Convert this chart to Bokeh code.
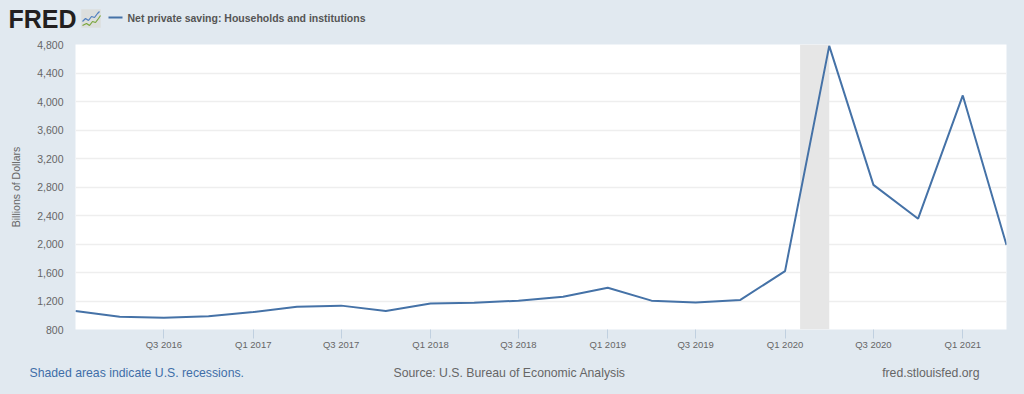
from datetime import datetime, timezone
from bokeh.plotting import figure
from bokeh.layouts import column, row
from bokeh.embed import file_html
from bokeh.resources import INLINE
from bokeh.core.properties import value
from bokeh.models import FixedTicker, NumeralTickFormatter, BoxAnnotation, Range1d, GlobalInlineStyleSheet

quarters = ["2016-01-01","2016-04-01","2016-07-01","2016-10-01","2017-01-01","2017-04-01","2017-07-01","2017-10-01",
            "2018-01-01","2018-04-01","2018-07-01","2018-10-01","2019-01-01","2019-04-01","2019-07-01","2019-10-01",
            "2020-01-01","2020-04-01","2020-07-01","2020-10-01","2021-01-01","2021-04-01"]
saving = [1060,980,965,985,1045,1120,1135,1060,1165,1175,1205,1260,1385,1205,1180,1215,1620,4780,2830,2355,4085,1985]
x_tick_dates = ["2016-07-01","2017-01-01","2017-07-01","2018-01-01","2018-07-01","2019-01-01","2019-07-01","2020-01-01","2020-07-01","2021-01-01"]
x_tick_labels = ["Q3 2016","Q1 2017","Q3 2017","Q1 2018","Q3 2018","Q1 2019","Q3 2019","Q1 2020","Q3 2020","Q1 2021"]
y_ticks = [800,1200,1600,2000,2400,2800,3200,3600,4000,4400,4800]
recession = ["2020-02-01","2020-04-01"]
series_name = "Net private saving: Households and institutions"

BG = "#e1e9f0"
LINE = "#4572a7"
FONT = "Liberation Sans"

def ms(s):
    return datetime.strptime(s, "%Y-%m-%d").replace(tzinfo=timezone.utc).timestamp()*1000

W, H = 1024, 394
HEAD, FOOT = 34, 36          # strips above and below the chart figure
L, R, T, B = 75, 1006, 44, 329

def strip(height, top):
    """Text strip whose data coordinates are page pixels."""
    f = figure(width=W, height=height, output_backend="svg", toolbar_location=None,
               x_range=Range1d(0, W), y_range=Range1d(top + height, top),
               x_axis_location=None, y_axis_location=None,
               min_border=0, min_border_left=0, min_border_right=0, min_border_top=0, min_border_bottom=0,
               background_fill_color=BG, border_fill_color=BG, outline_line_color=None)
    f.grid.visible = False
    return f

def put(f, text, x, y, size, color, style="normal", align="left"):
    f.text([x], [y], text=[text], text_font=value(FONT), text_font_size=value(size),
           text_font_style=style, text_color=color, text_align=align, text_baseline="middle")

# header
head = strip(HEAD, 0)
put(head, "FRED", 8, 18, "25px", "#231f20", "bold")
icon_box = ([81, 100, 100, 81], [9, 9, 27, 27])
icon_blue = ([82, 85, 88, 91, 94, 97, 99], [21, 18, 20, 16, 17, 13, 11])
icon_green = ([82, 86, 89, 92, 95, 98, 100], [25, 23, 25, 21, 22, 18, 15])
head.patch(icon_box[0], icon_box[1], fill_color="#dcdedd", line_color="#dcdedd", line_width=0.5)
head.line(icon_blue[0], icon_blue[1], line_color="#4f7fc0", line_width=1.2)
head.line(icon_green[0], icon_green[1], line_color="#7aa63c", line_width=1.2)
head.line([108, 122], [17, 17], line_color=LINE, line_width=2)
put(head, series_name, 127, 17, "10.5px", "#555555", "bold")

# chart
p = figure(width=W, height=H-HEAD-FOOT, output_backend="svg", toolbar_location=None, x_axis_type="datetime",
           x_range=Range1d(ms(quarters[0]), ms(quarters[-1])), y_range=Range1d(800, 4800),
           min_border_left=L, min_border_right=W-R, min_border_top=T-HEAD, min_border_bottom=H-FOOT-B,
           background_fill_color="white", border_fill_color=BG, outline_line_color=None)

p.add_layout(BoxAnnotation(left=ms(recession[0]), right=ms(recession[1]), fill_color="#e6e6e6", fill_alpha=1,
                           line_color=None, level="underlay"))
p.line([ms(q) for q in quarters], saving, line_color=LINE, line_width=2)

xa = p.xaxis[0]
xa.ticker = FixedTicker(ticks=[ms(d) for d in x_tick_dates])
xa.major_label_overrides = {ms(d): l for d, l in zip(x_tick_dates, x_tick_labels)}
xa.axis_line_color = None
xa.major_tick_line_color = "#c0d0e0"
xa.major_tick_out = 9
xa.major_tick_in = 0
xa.minor_tick_line_color = None
xa.major_label_text_font = FONT
xa.major_label_text_font_size = "9.5px"
xa.major_label_text_color = "#666666"
xa.major_label_standoff = 0

ya = p.yaxis[0]
ya.ticker = FixedTicker(ticks=y_ticks)
ya.formatter = NumeralTickFormatter(format="0,0")
ya.axis_line_color = None
ya.major_tick_line_color = None
ya.minor_tick_line_color = None
ya.major_label_text_font = FONT
ya.major_label_text_font_size = "10.5px"
ya.major_label_text_color = "#666666"
ya.major_label_standoff = 6
ya.axis_label = "Billions of Dollars"
ya.axis_label_text_font = FONT
ya.axis_label_text_font_size = "10.5px"
ya.axis_label_text_font_style = "normal"
ya.axis_label_text_color = "#666666"
ya.axis_label_standoff = 12

p.xgrid.visible = False
p.ygrid.grid_line_color = "#eeeeee"
p.ygrid.grid_line_width = 1.5

# footer
foot = strip(FOOT, H - FOOT)
put(foot, "Shaded areas indicate U.S. recessions.", 29, 372, "12.25px", "#3f6ea8")
put(foot, "Source: U.S. Bureau of Economic Analysis", 393, 372, "12.25px", "#666666")
put(foot, "fred.stlouisfed.org", 979, 372, "12.25px", "#666666", align="right")

page = column(row(head), p, row(foot), spacing=0,
              stylesheets=[GlobalInlineStyleSheet(css=f"html,body{{background:{BG};overflow:hidden}}")])
html = file_html(page, INLINE)
open("out.html", "w").write(html)
